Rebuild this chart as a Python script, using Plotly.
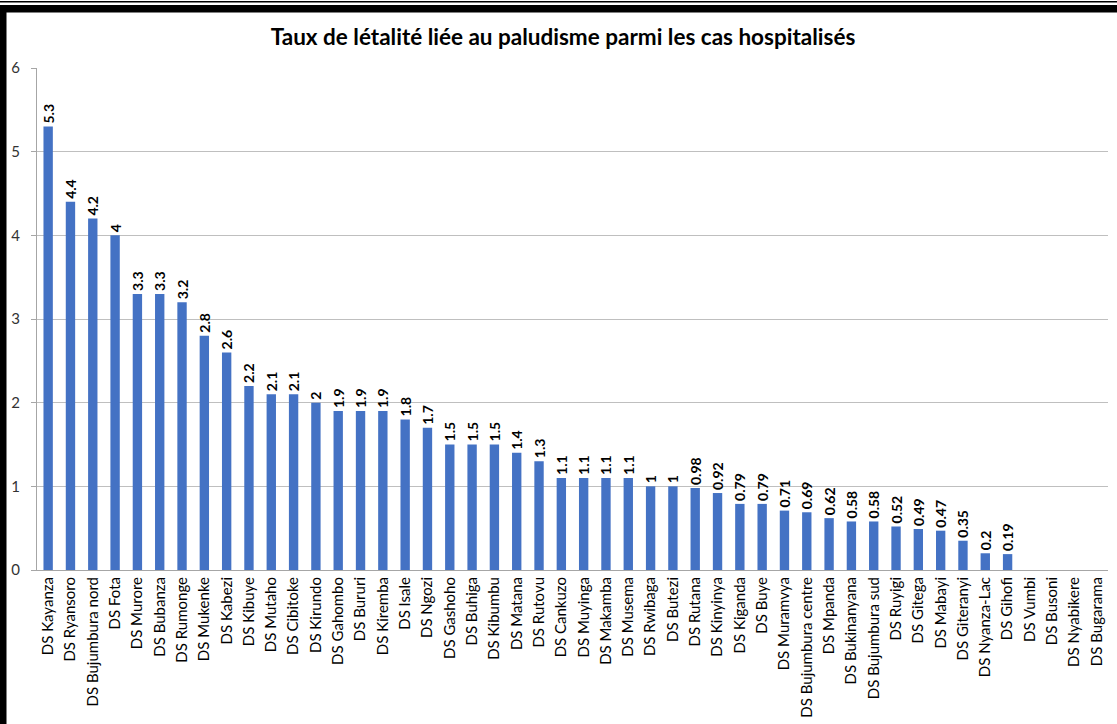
import plotly.graph_objects as go

# Districts sanitaires, sorted by lethality rate
districts = [
    "DS Kayanza", "DS Ryansoro", "DS Bujumbura nord", "DS Fota", "DS Murore",
    "DS Bubanza", "DS Rumonge", "DS Mukenke", "DS Kabezi", "DS Kibuye",
    "DS Mutaho", "DS Cibitoke", "DS Kirundo", "DS Gahombo", "DS Bururi",
    "DS Kiremba", "DS Isale", "DS Ngozi", "DS Gashoho", "DS Buhiga",
    "DS Kibumbu", "DS Matana", "DS Rutovu", "DS Cankuzo", "DS Muyinga",
    "DS Makamba", "DS Musema", "DS Rwibaga", "DS Butezi", "DS Rutana",
    "DS Kinyinya", "DS Kiganda", "DS Buye", "DS Muramvya", "DS Bujumbura centre",
    "DS Mpanda", "DS Bukinanyana", "DS Bujumbura sud", "DS Ruyigi", "DS Gitega",
    "DS Mabayi", "DS Giteranyi", "DS Nyanza-Lac", "DS Gihofi", "DS Vumbi",
    "DS Busoni", "DS Nyabikere", "DS Bugarama",
]

# Taux de létalité (%); None where no value is reported
taux = [
    5.3, 4.4, 4.2, 4, 3.3,
    3.3, 3.2, 2.8, 2.6, 2.2,
    2.1, 2.1, 2, 1.9, 1.9,
    1.9, 1.8, 1.7, 1.5, 1.5,
    1.5, 1.4, 1.3, 1.1, 1.1,
    1.1, 1.1, 1, 1, 0.98,
    0.92, 0.79, 0.79, 0.71, 0.69,
    0.62, 0.58, 0.58, 0.52, 0.49,
    0.47, 0.35, 0.2, 0.19, None,
    None, None, None,
]

y_ticks = [0, 1, 2, 3, 4, 5, 6]

labels = ["" if v is None else f"{v:g}" for v in taux]

FONT = "Lato, 'Open Sans', sans-serif"

fig = go.Figure(
    go.Bar(
        x=districts,
        y=taux,
        text=labels,
        textposition="outside",
        textangle=-90,
        constraintext="none",
        cliponaxis=False,
        textfont=dict(family=FONT, size=14, color="black", weight="bold"),
        marker=dict(color="#4472C4", line=dict(width=0)),
        hoverinfo="x+y",
    )
)

W, H = 1117, 724
ML, MR, MT, MB = 37, 9, 68, 154
pw = W - ML - MR
ph = H - MT - MB


def px_x(p):
    return (p - ML) / pw


def px_y(p):
    return 1 - (p - MT) / ph


# Frame strokes along the top and left edge of the page
frame = [
    dict(type="rect", xref="paper", yref="paper",
         x0=px_x(0), x1=px_x(W), y0=px_y(2.5), y1=px_y(1),
         fillcolor="black", line=dict(width=0), layer="above"),
    dict(type="rect", xref="paper", yref="paper",
         x0=px_x(0), x1=px_x(W), y0=px_y(12.5), y1=px_y(5),
         fillcolor="black", line=dict(width=0), layer="above"),
    dict(type="rect", xref="paper", yref="paper",
         x0=px_x(0), x1=px_x(6.5), y0=px_y(H), y1=px_y(5),
         fillcolor="black", line=dict(width=0), layer="above"),
]

fig.update_layout(
    width=W,
    height=H,
    margin=dict(l=ML, r=MR, t=MT, b=MB, autoexpand=False),
    paper_bgcolor="white",
    plot_bgcolor="white",
    bargap=0.58,
    showlegend=False,
    title=dict(
        text="<b>Taux de létalité liée au paludisme parmi les cas hospitalisés</b>",
        x=563 / W,
        xanchor="center",
        y=1 - 37 / H,
        yanchor="middle",
        font=dict(family=FONT, size=22.5, color="black"),
    ),
    xaxis=dict(
        tickangle=-90,
        tickfont=dict(family=FONT, size=15, color="black"),
        showline=True,
        linecolor="#a6a6a6",
        linewidth=1,
        ticks="",
        showgrid=False,
        automargin=False,
    ),
    yaxis=dict(
        range=[0, 6],
        tickvals=y_ticks,
        tickfont=dict(family=FONT, size=15, color="#333333"),
        ticklabelstandoff=8,
        showline=True,
        linecolor="#a6a6a6",
        linewidth=1,
        ticks="outside",
        ticklen=5,
        tickcolor="#a6a6a6",
        showgrid=True,
        gridcolor="#bfbfbf",
        gridwidth=1,
        zeroline=False,
        automargin=False,
    ),
    shapes=frame,
)

fig.write_html("out.html")
